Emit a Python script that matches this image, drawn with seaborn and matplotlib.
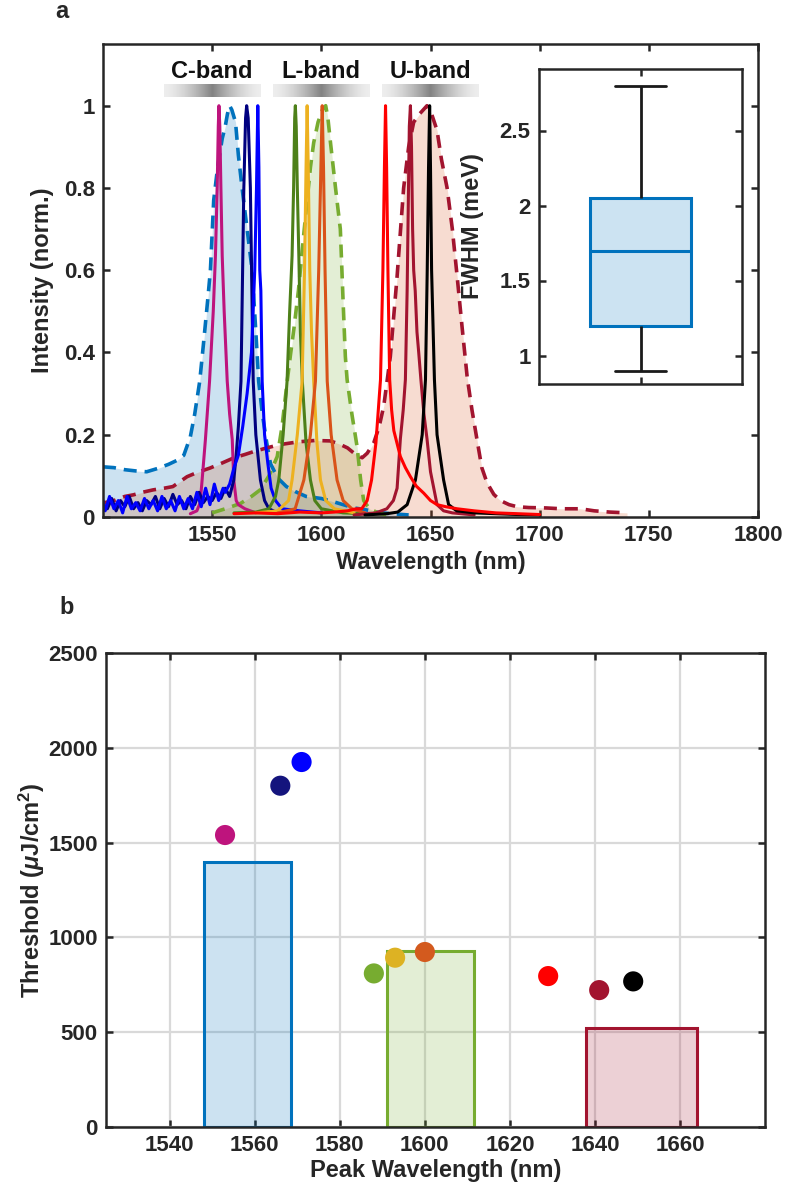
import numpy as np
import matplotlib
matplotlib.use('Agg')
import matplotlib.pyplot as plt
import seaborn as sns

# ---------------- panel a : spectra (nm, normalised intensity) ----------------
# broad spontaneous-emission spectra (dashed, filled)
c_ase_wl = [1500, 1505, 1510, 1515, 1520, 1525, 1530, 1534, 1537, 1540, 1542, 1544.3, 1546, 1548,
            1549.2, 1550.7, 1552.5, 1554.6, 1556, 1557, 1558, 1559, 1560.7, 1562, 1563.7, 1566,
            1568.3, 1570, 1571.3, 1573, 1575, 1576.7, 1580, 1584, 1588, 1593, 1600, 1605, 1610,
            1615, 1620, 1625, 1632, 1640]
c_ase_int = [0.122, 0.12, 0.115, 0.112, 0.11, 0.118, 0.128, 0.138, 0.15, 0.195, 0.25, 0.33, 0.42,
             0.53, 0.6, 0.77, 0.85, 0.92, 0.95, 0.98, 1.0, 0.99, 0.96, 0.88, 0.8, 0.7, 0.6, 0.45,
             0.33, 0.25, 0.18, 0.13, 0.095, 0.074, 0.062, 0.05, 0.045, 0.038, 0.03, 0.022, 0.018,
             0.012, 0.008, 0.005]

l_ase_wl = [1550, 1556, 1563, 1568, 1572, 1576, 1579.8, 1582, 1584.3, 1586, 1587.4, 1589.5, 1592,
            1595, 1596.5, 1598.5, 1600.5, 1602, 1603, 1604.2, 1606.5, 1608.7, 1610, 1611, 1611.8,
            1614, 1616.4, 1618, 1619.4, 1622, 1626, 1630]
l_ase_int = [0.01, 0.02, 0.033, 0.05, 0.066, 0.1, 0.147, 0.22, 0.327, 0.4, 0.456, 0.55, 0.69, 0.85,
             0.91, 0.96, 0.99, 1.0, 0.97, 0.91, 0.8, 0.7, 0.52, 0.39, 0.334, 0.25, 0.17, 0.09,
             0.04, 0.02, 0.01, 0.005]

u_ase_wl = [1500, 1505, 1510, 1514, 1518, 1523, 1528, 1532, 1535, 1538.5, 1543, 1549, 1554, 1560,
            1565, 1569, 1575, 1581, 1586, 1590, 1597, 1604, 1608, 1612, 1615, 1618.7, 1621, 1624,
            1626.5, 1628.6, 1631.6, 1634.7, 1637.7, 1640, 1642.3, 1645, 1648.4, 1650.5, 1653,
            1655, 1657.6, 1660, 1662.2, 1664.5, 1666.8, 1669, 1671.3, 1673.5, 1675.9, 1679, 1682,
            1686, 1689.7, 1695, 1703, 1710, 1718.6, 1725, 1732, 1740]
u_ase_int = [0.034, 0.04, 0.05, 0.054, 0.06, 0.066, 0.07, 0.074, 0.085, 0.098, 0.108, 0.119, 0.13,
             0.144, 0.152, 0.159, 0.168, 0.176, 0.18, 0.183, 0.186, 0.185, 0.178, 0.168, 0.155,
             0.144, 0.155, 0.18, 0.22, 0.27, 0.39, 0.585, 0.8, 0.9, 0.96, 0.98, 1.0, 0.98, 0.94,
             0.87, 0.8, 0.7, 0.585, 0.46, 0.34, 0.26, 0.188, 0.12, 0.083, 0.055, 0.04, 0.03,
             0.025, 0.023, 0.022, 0.02, 0.02, 0.015, 0.012, 0.01]

# lasing spectra (solid)
magenta_wl = [1540, 1543, 1544.5, 1545.4, 1546.9, 1548, 1548.8, 1550.5, 1551.5, 1552.3, 1552.8,
              1553.1, 1553.5, 1554, 1554.6, 1555.5, 1556.9, 1558, 1559.2, 1559.9, 1561, 1562,
              1565, 1570]
magenta_int = [0.008, 0.015, 0.035, 0.09, 0.188, 0.27, 0.33, 0.5, 0.635, 0.8, 0.95, 1.0, 0.95,
               0.8, 0.635, 0.5, 0.33, 0.25, 0.188, 0.09, 0.04, 0.03, 0.02, 0.01]

navy_wl = [1500, 1502, 1504, 1506, 1508, 1510, 1512, 1514, 1516, 1518, 1520, 1522, 1524, 1526,
           1528, 1530, 1532, 1534, 1536, 1538, 1540, 1542, 1544, 1546, 1548, 1550, 1552, 1554,
           1556, 1558, 1559.9, 1561, 1562, 1563.2, 1564.5, 1565.3, 1565.8, 1566.5, 1567.5,
           1568.8, 1570, 1572.1, 1574, 1576, 1580]
navy_int = [0.03, 0.02, 0.045, 0.015, 0.04, 0.025, 0.05, 0.02, 0.035, 0.015, 0.04, 0.03, 0.05,
            0.02, 0.045, 0.025, 0.055, 0.03, 0.04, 0.02, 0.05, 0.03, 0.06, 0.035, 0.05, 0.04,
            0.06, 0.045, 0.07, 0.05, 0.09, 0.15, 0.22, 0.33, 0.8, 0.97, 1.0, 0.97, 0.8, 0.33,
            0.2, 0.09, 0.04, 0.02, 0.01]

blue_wl = [1500, 1501, 1503, 1505, 1507, 1509, 1511, 1513, 1515, 1517, 1519, 1521, 1523, 1525,
           1527, 1529, 1531, 1533, 1535, 1537, 1539, 1541, 1543, 1545, 1547, 1549, 1551, 1553,
           1555, 1556, 1558, 1560, 1562, 1564, 1566, 1568, 1569.5, 1570.3, 1570.9, 1571.4,
           1571.8, 1572.3, 1572.9, 1574, 1575.5, 1577, 1579, 1582, 1590, 1600]
blue_int = [0.04, 0.015, 0.05, 0.02, 0.04, 0.01, 0.05, 0.02, 0.035, 0.015, 0.045, 0.02, 0.04,
            0.015, 0.05, 0.02, 0.04, 0.015, 0.05, 0.02, 0.045, 0.02, 0.06, 0.025, 0.07, 0.03,
            0.08, 0.04, 0.07, 0.06, 0.08, 0.12, 0.15, 0.22, 0.3, 0.4, 0.6, 0.8, 1.0, 0.85, 0.6,
            0.55, 0.33, 0.2, 0.13, 0.07, 0.04, 0.02, 0.015, 0.01]

dgreen_wl = [1560, 1570, 1576, 1579, 1580.5, 1582.5, 1584.3, 1585.5, 1586.6, 1587.3, 1587.8,
             1588.1, 1588.5, 1589, 1589.7, 1590.4, 1591.3, 1593, 1595, 1597, 1600, 1610, 1620]
dgreen_int = [0.01, 0.012, 0.02, 0.05, 0.09, 0.2, 0.33, 0.5, 0.635, 0.8, 0.97, 1.0, 0.95, 0.8,
              0.635, 0.45, 0.33, 0.18, 0.09, 0.04, 0.02, 0.01, 0.008]

yellow_wl = [1570, 1580, 1585, 1586.6, 1589, 1591.2, 1592.3, 1593, 1593.5, 1594, 1594.7, 1595.5,
             1596.5, 1598, 1599.6, 1602, 1606, 1615]
yellow_int = [0.01, 0.015, 0.04, 0.09, 0.2, 0.33, 0.6, 0.85, 1.0, 0.85, 0.6, 0.45, 0.33, 0.18,
              0.09, 0.04, 0.02, 0.01]

orange_wl = [1580, 1588, 1592, 1595, 1597.3, 1598.8, 1599.8, 1600.4, 1601, 1601.7, 1602.7,
             1604.5, 1607.2, 1610, 1614, 1620]
orange_int = [0.01, 0.02, 0.09, 0.2, 0.33, 0.6, 0.85, 1.0, 0.85, 0.6, 0.33, 0.2, 0.09, 0.04,
              0.02, 0.01]

red_wl = [1560, 1570, 1580, 1590, 1600, 1606, 1612, 1616, 1618.5, 1621, 1623, 1625, 1627.1,
          1628.2, 1628.9, 1629.4, 1629.9, 1630.5, 1631.3, 1632.2, 1633.2, 1636.2, 1638.5,
          1640.8, 1643.5, 1646.9, 1650, 1653, 1657, 1662.2, 1670, 1680, 1690, 1700]
red_int = [0.008, 0.01, 0.008, 0.012, 0.01, 0.012, 0.015, 0.02, 0.02, 0.04, 0.09, 0.18, 0.334,
           0.6, 0.85, 1.0, 0.85, 0.6, 0.334, 0.26, 0.21, 0.147, 0.12, 0.098, 0.075, 0.058, 0.04,
           0.03, 0.025, 0.02, 0.015, 0.01, 0.008, 0.006]

dred_wl = [1615, 1625, 1630, 1633, 1634.7, 1636.2, 1637.5, 1638.5, 1639.3, 1639.8, 1640.3,
           1640.8, 1641.3, 1641.8, 1642.3, 1643, 1643.8, 1644.6, 1645.6, 1647, 1648.4, 1650,
           1651.5, 1653, 1656, 1660, 1670]
dred_int = [0.005, 0.01, 0.02, 0.04, 0.07, 0.19, 0.26, 0.334, 0.55, 0.75, 0.95, 1.0, 0.9, 0.7,
            0.6, 0.55, 0.45, 0.4, 0.334, 0.25, 0.19, 0.11, 0.07, 0.03, 0.015, 0.01, 0.005]

black_wl = [1620, 1630, 1635, 1639.3, 1643.1, 1646.2, 1647.7, 1648.5, 1649.1, 1649.6, 1650,
            1650.5, 1651.8, 1653, 1656, 1658.3, 1662, 1670, 1680, 1690, 1700]
black_int = [0.005, 0.008, 0.012, 0.03, 0.09, 0.2, 0.334, 0.6, 0.85, 1.0, 0.85, 0.6, 0.334, 0.2,
             0.09, 0.03, 0.015, 0.01, 0.008, 0.006, 0.005]

band_names = ['C-band', 'L-band', 'U-band']
band_centres = [1550, 1600, 1650]

# FWHM of the nine lasing lines (meV)
fwhm = [0.9, 1.0, 1.2, 1.5, 1.7, 1.9, 2.05, 2.4, 2.8]

# ---------------- panel b : thresholds ----------------
peak_wl = [1553, 1566, 1571, 1588, 1593, 1600, 1629, 1641, 1649]
threshold = [1540, 1800, 1925, 810, 893, 923, 796, 722, 768]
dot_colors = ['#BE147D', '#14147D', '#0000FF', '#77AC30', '#DDB223', '#D35A1E',
              '#FF0000', '#A2142F', '#000000']

bar_left = [1548, 1591, 1638]
bar_width = [20.5, 20.5, 26]
bar_height = [1400, 930, 520]
bar_colors = ['#0072BD', '#77AC30', '#A2142F']

# ---------------- style ----------------
sns.set_style('white')
plt.rcParams['font.family'] = ['Liberation Sans', 'DejaVu Sans']
plt.rcParams['font.weight'] = 'bold'
plt.rcParams['axes.labelweight'] = 'bold'
plt.rcParams['mathtext.fontset'] = 'custom'
plt.rcParams['mathtext.rm'] = 'Liberation Sans:bold'
plt.rcParams['mathtext.it'] = 'Liberation Sans:bold:italic'
plt.rcParams['mathtext.bf'] = 'Liberation Sans:bold'

FS = 16
LFS = 17
SPW = 1.8
INK = '#262626'

fig = plt.figure(figsize=(8, 12.03), dpi=100)
ax1 = fig.add_axes([103 / 800, 1 - 517 / 1203, 655 / 800, 473 / 1203])
axin = fig.add_axes([539 / 800, 1 - 384 / 1203, 203 / 800, 315 / 1203])
ax2 = fig.add_axes([106 / 800, 1 - 1127 / 1203, 659 / 800, 474 / 1203])


def style_axes(ax):
    for s in ax.spines.values():
        s.set_linewidth(SPW)
        s.set_color(INK)
        s.set_visible(True)
    ax.tick_params(direction='in', length=5, width=1.8, top=True, right=True,
                   bottom=True, left=True, labelsize=FS, colors=INK,
                   labelcolor=INK, pad=6)


# fills of the broad spectra
ax1.fill_between(c_ase_wl, c_ase_int, color='#0072BD', alpha=0.2, lw=0)
ax1.fill_between(l_ase_wl, l_ase_int, color='#77AC30', alpha=0.2, lw=0)
ax1.fill_between(u_ase_wl, u_ase_int, color='#D95319', alpha=0.2, lw=0)

dashed = [(c_ase_wl, c_ase_int, '#0072BD'),
          (l_ase_wl, l_ase_int, '#77AC30'),
          (u_ase_wl, u_ase_int, '#A2142F')]
for wl, inten, col in dashed:
    sns.lineplot(x=wl, y=inten, color=col, lw=2.6, ax=ax1)
    ax1.lines[-1].set_dashes([3.6, 2.2])

solid = [(magenta_wl, magenta_int, '#BE147D'),
         (navy_wl, navy_int, '#000080'),
         (blue_wl, blue_int, '#0000FF'),
         (dgreen_wl, dgreen_int, '#4D8019'),
         (yellow_wl, yellow_int, '#EDB120'),
         (orange_wl, orange_int, '#D95319'),
         (dred_wl, dred_int, '#A2142F'),
         (black_wl, black_int, '#000000'),
         (red_wl, red_int, '#FF0000')]
for wl, inten, col in solid:
    sns.lineplot(x=wl, y=inten, color=col, lw=2.2, ax=ax1)

# band labels with grey gradient strips
t = np.linspace(-1, 1, 200)
grad = (0.93 - 0.42 * (1 - np.abs(t)) ** 1.6)[None, :]
for name, cen in zip(band_names, band_centres):
    ax1.imshow(grad, cmap='gray', vmin=0, vmax=1, aspect='auto',
               extent=[cen - 22, cen + 22, 1.022, 1.052], zorder=1)
    ax1.text(cen, 1.082, name, ha='center', va='center', fontsize=LFS, fontweight='bold',
             color='#111111')

ax1.set_xlim(1500, 1800)
ax1.set_ylim(0, 1.15)
ax1.set_xticks([1550, 1600, 1650, 1700, 1750, 1800])
ax1.set_yticks([0, 0.2, 0.4, 0.6, 0.8, 1.0])
ax1.set_yticklabels(['0', '0.2', '0.4', '0.6', '0.8', '1'])
ax1.set_xlabel('Wavelength (nm)', fontsize=LFS, labelpad=3, color=INK)
ax1.set_ylabel('Intensity (norm.)', fontsize=LFS, color=INK)
ax1.yaxis.set_label_coords(-0.075, 0.5)
style_axes(ax1)

# inset box plot
sns.boxplot(y=fwhm, ax=axin, width=0.5, whis=1.5,
            boxprops=dict(facecolor='#CCE3F2', edgecolor='#0072BD', linewidth=2.2),
            medianprops=dict(color='#0072BD', linewidth=2.2),
            whiskerprops=dict(color='#1a1a1a', linewidth=2),
            capprops=dict(color='#1a1a1a', linewidth=2))
axin.set_xlim(-0.5, 0.5)
axin.set_ylim(0.81, 2.91)
axin.set_yticks([1, 1.5, 2, 2.5])
axin.set_yticklabels(['1', '1.5', '2', '2.5'])
axin.set_xticks([0])
axin.set_xticklabels([])
axin.set_ylabel('FWHM (meV)', fontsize=LFS, color=INK)
axin.yaxis.set_label_coords(-0.27, 0.5)
style_axes(axin)

# panel b
ax2.set_axisbelow(True)
ax2.grid(True, color='#d9d9d9', lw=1.6)
for left, w, h, col in zip(bar_left, bar_width, bar_height, bar_colors):
    ax2.bar(left, h, width=w, align='edge', facecolor=matplotlib.colors.to_rgba(col, 0.2),
            edgecolor=col, linewidth=2.2, zorder=2)
sns.scatterplot(x=peak_wl, y=threshold, hue=list(range(len(peak_wl))),
                palette=dot_colors, s=210, linewidth=0, legend=False, ax=ax2, zorder=3)
ax2.set_xlim(1525, 1680)
ax2.set_ylim(0, 2500)
ax2.set_xticks(range(1540, 1661, 20))
ax2.set_yticks(range(0, 2501, 500))
ax2.set_xlabel('Peak Wavelength (nm)', fontsize=LFS, labelpad=2, color=INK)
ax2.set_ylabel(r'Threshold ($\mu$J/cm$^2$)', fontsize=LFS, color=INK)
ax2.yaxis.set_label_coords(-0.09, 0.5)
style_axes(ax2)

fig.text(62 / 800, 1 - 11 / 1203, 'a', ha='center', va='center', fontsize=LFS, fontweight='bold')
fig.text(67 / 800, 1 - 607 / 1203, 'b', ha='center', va='center', fontsize=LFS, fontweight='bold')

fig.savefig('out.png', dpi=100, facecolor='white')
